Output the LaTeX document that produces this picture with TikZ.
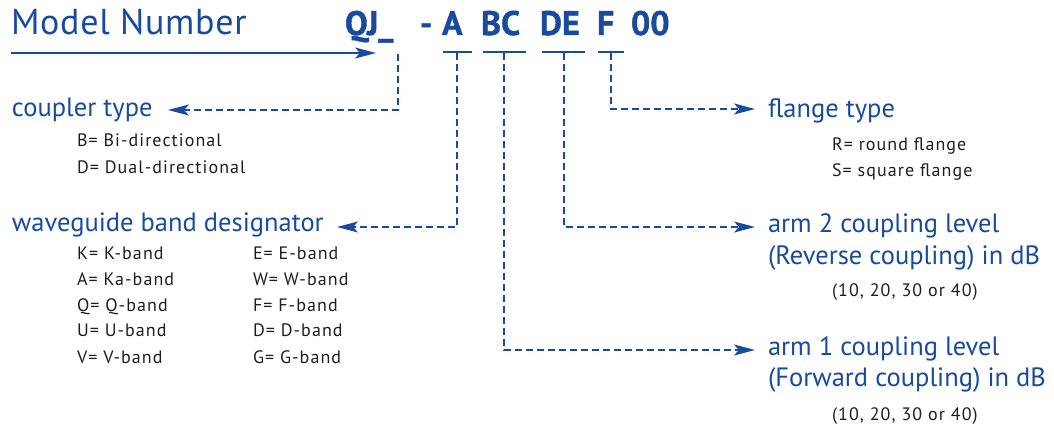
\documentclass[tikz,border=0pt]{standalone}
\usepackage{fontspec}
\setmainfont{PT Sans}
\newfontfamily\codefont[BoldFeatures={FakeBold=1.2}]{PT Sans}
\newfontfamily\subfont[LetterSpace=6]{PT Sans}
\newfontfamily\titlefont[LetterSpace=2]{PT Sans}
\usetikzlibrary{arrows.meta}
\definecolor{mblue}{RGB}{24,74,160}
\definecolor{mtext}{RGB}{30,30,30}
\begin{document}
\begin{tikzpicture}[x=1pt,y=-1pt,
  txt/.style={anchor=base west,inner sep=0pt,outer sep=0pt},
  head/.style={txt,text=mblue,font=\fontsize{26.5}{26.5}\selectfont},
  sub/.style={txt,text=mtext,font=\subfont\fontsize{18}{18}\selectfont},
  code/.style={txt,text=mblue,font=\codefont\fontsize{34}{34}\selectfont\bfseries},
  tipstyle/.style={-{Stealth[length=21pt,width=11pt,inset=5pt]}},
  conn/.style={draw=mblue,line width=1.8pt,dash pattern=on 7pt off 4pt,tipstyle},
  seg/.style={draw=mblue,line width=2.4pt}]
\useasboundingbox (0,0) rectangle (1054,427);
% title
\node[txt,text=mblue,font=\titlefont\fontsize{36}{36}\selectfont] (title) at (11,35) {Model Number};
\node[code] (qj) at (345,35) {QJ\_};
\node[code] (dash) at (420,35) {-};
\node[code] (cA) at (442,35) {A};
\node[code] (cBC) at (481,35) {BC};
\node[code] (cDE) at (540,35) {DE};
\node[code] (cF) at (597,35) {F};
\node[code] (c00) at (631,35) {00};
% main arrow
\coordinate (arrS) at (11,53);
\coordinate (arrE) at (376,53);
\draw[draw=mblue,line width=1.8pt,tipstyle] (arrS) -- (arrE);
% segments
\draw[seg] (443,52) -- (472,52);
\draw[seg] (483,52) -- (526,52);
\draw[seg] (542,52) -- (585,52);
\draw[seg] (598,52) -- (624,52);
\coordinate (sQJ) at (398,54);
\coordinate (sA) at (457,53);
\coordinate (sBC) at (504,53);
\coordinate (sDE) at (564,53);
\coordinate (sF) at (611,53);
% headings
\node[head] (coupler) at (12,117) {coupler type};
\node[sub] (b1) at (77,147) {B= Bi-directional};
\node[sub] (b2) at (77,174) {D= Dual-directional};
\node[head] (wg) at (12,232) {waveguide band designator};
\node[sub] (k1) at (77,260) {K= K-band};
\node[sub] (k2) at (77,286) {A= Ka-band};
\node[sub] (k3) at (77,312) {Q= Q-band};
\node[sub] (k4) at (77,337) {U= U-band};
\node[sub] (k5) at (77,363) {V= V-band};
\node[sub] (e1) at (253,260) {E= E-band};
\node[sub] (e2) at (253,286) {W= W-band};
\node[sub] (e3) at (253,312) {F= F-band};
\node[sub] (e4) at (253,337) {D= D-band};
\node[sub] (e5) at (253,363) {G= G-band};
\node[head] (flange) at (768,118) {flange type};
\node[sub] (r1) at (832,151) {R= round flange};
\node[sub] (r2) at (832,177) {S= square flange};
\node[head] (arm2) at (768,233) {arm 2 coupling level};
\node[head] (arm2b) at (768,265) {(Reverse coupling) in dB};
\node[sub] (arm2c) at (832,297) {(10, 20, 30 or 40)};
\node[head] (arm1) at (768,355) {arm 1 coupling level};
\node[head] (arm1b) at (768,386) {(Forward coupling) in dB};
\node[sub] (arm1c) at (832,420) {(10, 20, 30 or 40)};
% connectors
\coordinate (tC) at (168,110);
\coordinate (tW) at (337,227);
\coordinate (tF) at (755,109);
\coordinate (t2) at (755,227);
\coordinate (t1) at (755,350);
\draw[conn] (sQJ) |- (tC);
\draw[conn] (sA) |- (tW);
\draw[conn] (sF) |- (tF);
\draw[conn] (sDE) |- (t2);
\draw[conn] (sBC) |- (t1);
\end{tikzpicture}
\end{document}
